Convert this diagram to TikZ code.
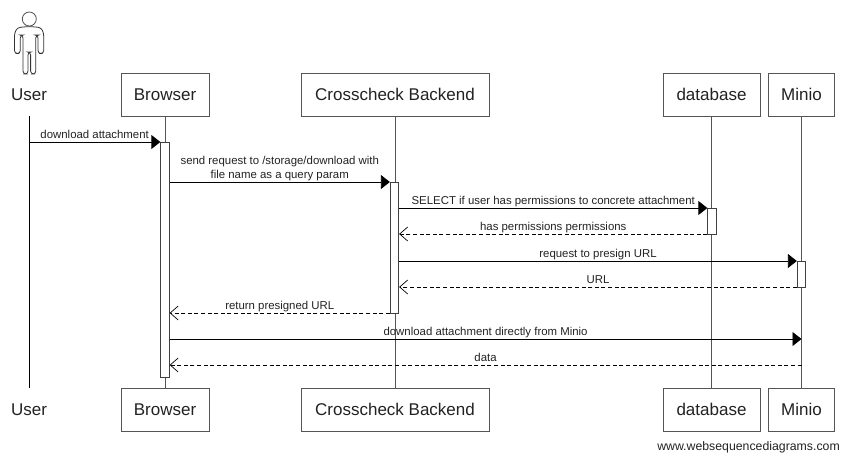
\documentclass[tikz,border=0pt]{standalone}
\usepackage{fontspec}
\setmainfont{Liberation Sans}
\usetikzlibrary{calc,positioning,arrows.meta}

\definecolor{boxline}{HTML}{555555}
\definecolor{labeltext}{HTML}{222222}

\tikzset{
  actorbox/.style={draw=boxline,line width=0.9pt,fill=white,minimum height=43pt,inner sep=0pt,font=\fontsize{17}{19}\selectfont,text=labeltext},
  actorname/.style={minimum height=43pt,inner sep=0pt,font=\fontsize{17}{19}\selectfont,text=labeltext},
  lifeline/.style={draw=boxline,line width=0.9pt},
  activation/.style={draw=black!75,line width=0.8pt,fill=white,minimum width=8.5pt,inner sep=0pt},
  call/.style={line width=0.8pt,-{Triangle[length=9pt,width=14pt]}},
  reply/.style={line width=0.7pt,dash pattern=on 4pt off 2.6pt,-{Straight Barb[length=8pt,width=14pt]}},
  msg/.style={above,midway,inner sep=1pt,text depth=2.5pt,font=\fontsize{11.4}{14}\selectfont,text=labeltext,align=center}
}

\begin{document}
\begin{tikzpicture}[x=1pt,y=1pt,node distance=315pt]
      \useasboundingbox (0,0) rectangle (841,-453);

      % top row
      \node[actorname] (User) at (29,-94.5) {User};
      \node[actorbox,minimum width=88pt] (Browser) at (165,-94.5) {Browser};
      \node[actorbox,minimum width=188pt] (Backend) at (395,-94.5) {Crosscheck Backend};
      \node[actorbox,minimum width=97pt] (Database) at (711.5,-94.5) {database};
      \node[actorbox,minimum width=66pt] (Minio) at (801.5,-94.5) {Minio};

      % bottom row
      \node[actorname,below of=User] (User_ground) {User};
      \node[actorbox,minimum width=88pt,below of=Browser] (Browser_ground) {Browser};
      \node[actorbox,minimum width=188pt,below of=Backend] (Backend_ground) {Crosscheck Backend};
      \node[actorbox,minimum width=97pt,below of=Database] (Database_ground) {database};
      \node[actorbox,minimum width=66pt,below of=Minio] (Minio_ground) {Minio};

      % stick figure
      \draw[boxline,line width=0.8pt,fill=white] (29.3,-19) circle (7);
      \draw[black!80,line width=0.8pt,rounded corners=3pt] (29.3,-26.5) -- (41,-27.5) -- (43.7,-33) -- (43.7,-53.5) -- (38,-53.5) -- (38,-35) -- (35.8,-35) -- (35.8,-74) -- (30.6,-74) -- (30.6,-52) -- (28,-52) -- (28,-74) -- (23,-74) -- (23,-35) -- (20.3,-35) -- (20.3,-53.5) -- (14.5,-53.5) -- (14.5,-33) -- (17.5,-27.5) -- cycle;

      % lifelines
      \draw[black,line width=0.8pt] (User) -- (User_ground);
      \draw[lifeline] (Browser) -- (Browser_ground);
      \draw[lifeline] (Backend) -- (Backend_ground);
      \draw[lifeline] (Database) -- (Database_ground);
      \draw[lifeline] (Minio) -- (Minio_ground);

      % activation bars
      \node[activation,minimum height=235pt] (Browser_act) at (165,-259.5) {};
      \node[activation,minimum height=131pt] (Backend_act) at (394.5,-247.5) {};
      \node[activation,minimum height=26pt] (Database_act) at (712,-221) {};
      \node[activation,minimum height=26pt] (Minio_act) at (801.5,-274) {};

      % message rows
      \coordinate (r1) at (0,-142);
      \coordinate (r2) at (0,-182);
      \coordinate (r3) at (0,-208);
      \coordinate (r4) at (0,-234);
      \coordinate (r5) at (0,-261);
      \coordinate (r6) at (0,-287);
      \coordinate (r7) at (0,-313);
      \coordinate (r8) at (0,-339);
      \coordinate (r9) at (0,-365);

      \draw[call] (User |- r1) -- node[msg]{download attachment} (Browser_act.west |- r1);
      \draw[call] (Browser_act.east |- r2) -- node[msg]{send request to /storage/download with\\file name as a query param} (Backend_act.west |- r2);
      \draw[call] (Backend_act.east |- r3) -- node[msg]{SELECT if user has permissions to concrete attachment} (Database_act.west |- r3);
      \draw[reply] (Database_act.west |- r4) -- node[msg]{has permissions permissions} (Backend_act.east |- r4);
      \draw[call] (Backend_act.east |- r5) -- node[msg]{request to presign URL} (Minio_act.west |- r5);
      \draw[reply] (Minio_act.west |- r6) -- node[msg]{URL} (Backend_act.east |- r6);
      \draw[reply] (Backend_act.west |- r7) -- node[msg]{return presigned URL} (Browser_act.east |- r7);
      \draw[call] (Browser_act.east |- r8) -- node[msg]{download attachment directly from Minio} (Minio |- r8);
      \draw[reply] (Minio |- r9) -- node[msg]{data} (Browser_act.east |- r9);

      \node[anchor=east,inner sep=0pt,font=\fontsize{12.3}{14}\selectfont,text=labeltext] (credit) at (840,-447) {www.websequencediagrams.com};
\end{tikzpicture}
\end{document}
